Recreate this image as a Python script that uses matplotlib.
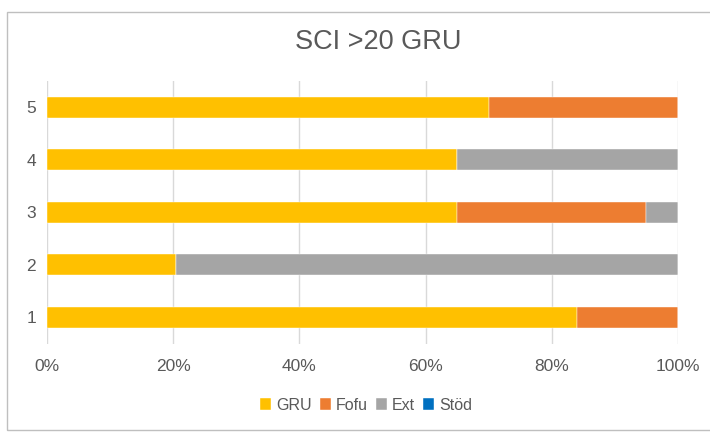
import matplotlib
matplotlib.use("Agg")
import matplotlib.pyplot as plt
from matplotlib.patches import Rectangle
import numpy as np

plt.rcParams['font.family'] = ['Liberation Sans', 'DejaVu Sans']

categories = ["1", "2", "3", "4", "5"]
series_names = ["GRU", "Fofu", "Ext", "Stöd"]
gru = [84, 20.5, 65, 65, 70]
fofu = [16, 0, 30, 0, 30]
ext = [0, 79.5, 5, 35, 0]
stod = [0, 0, 0, 0, 0]
colors = ["#FFC000", "#ED7D31", "#A5A5A5", "#0070C0"]
xticks = [0, 20, 40, 60, 80, 100]
title = "SCI >20 GRU"

fig = plt.figure(figsize=(7.1, 4.32), dpi=100)
ax = fig.add_axes([47/710, 1-343.5/432, (678-47)/710, (343.5-81)/432])

# chart border
fig.patches.append(Rectangle((7/710, 2/432), 1.2, 418/432, transform=fig.transFigure,
                             fill=False, edgecolor="#BFBFBF", linewidth=1.0))

data = np.array([gru, fofu, ext, stod], dtype=float)
totals = data.sum(axis=0)
pct = data / totals * 100
y = np.arange(1, len(categories) + 1)
left = np.zeros(len(categories))
for name, vals, c in zip(series_names, pct, colors):
    ax.barh(y, vals, left=left, height=0.4, color=c, label=name, zorder=3,
            edgecolor="white", linewidth=0.3)
    left += vals

ax.set_xlim(0, 100)
ax.set_ylim(0.5, 5.5)
ax.set_xticks(xticks)
ax.set_xticklabels([f"{t}%" for t in xticks])
ax.set_yticks(y)
ax.set_yticklabels(categories)
ax.tick_params(axis='both', length=0, labelsize=12.5, labelcolor="#595959")
ax.tick_params(axis='x', pad=11)
ax.tick_params(axis='y', pad=8)
ax.grid(axis='x', color="#D9D9D9", linewidth=1.0, zorder=0)
for s in ax.spines.values():
    s.set_visible(False)

fig.text(378/710, 1-42/432, title, ha='center', va='center', fontsize=19.5, color="#595959")

fig.legend(loc='center', bbox_to_anchor=(366/710, 1-405/432), ncol=4, frameon=False,
           handlelength=0.7, handleheight=0.7, handletextpad=0.3, columnspacing=0.5,
           fontsize=11.5, labelcolor="#595959")

fig.savefig("out.png", dpi=100)
